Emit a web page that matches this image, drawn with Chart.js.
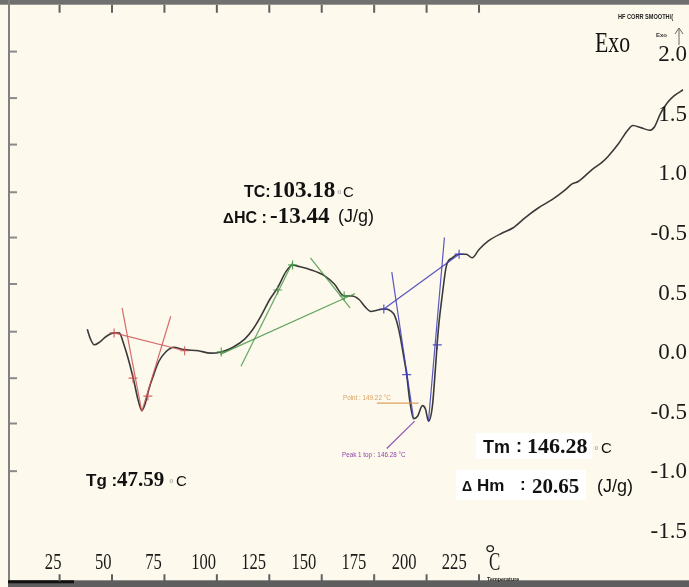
<!DOCTYPE html>
<html lang="en">
<head>
<meta charset="UTF-8">
<title>DSC curve</title>
<script src="https://cdn.jsdelivr.net/npm/chart.js"></script>
<style>
  html, body { margin: 0; padding: 0; background: #fdf9ec; }
  #wrap { width: 689px; height: 587px; }
</style>
</head>
<body>
<div id="wrap"><canvas id="dsc"></canvas></div>
<script>
// temperature (degC) and heat flow
const tempC = [38.2, 39.7, 41.5, 43.9, 47.2, 51.0, 53.4, 55.7, 58.1, 60.5, 62.4, 64.2, 65.7, 67.6, 69.9, 72.3,
  75.6, 79.4, 84.1, 91.2, 96.9, 102.1, 107.7, 113.4, 117.2, 121.0, 125.2, 129.0, 132.8, 136.1, 138.5, 144.6,
  151.2, 156.0, 160.7, 164.5, 167.8, 170.6, 173.5, 176.3, 179.6, 184.3, 186.7, 189.1, 190.5, 191.9, 193.8,
  195.7, 198.0, 199.5, 200.9, 202.8, 204.2, 205.6, 207.5, 209.4, 212.2, 215.5, 218.9, 221.7, 225.0, 229.3,
  236.3, 241.1, 247.2, 253.4, 260.0, 266.1, 269.4, 272.3, 278.9, 283.6, 286.5, 291.2, 295.9, 298.3, 302.5,
  306.3, 308.7, 311.5, 314.8, 318.1, 322.4];
const heatFlow = [0.20, 0.12, 0.07, 0.09, 0.14, 0.17, 0.17, 0.07, -0.07, -0.24, -0.39, -0.48, -0.43, -0.30, -0.18, -0.07,
  0.01, 0.05, 0.03, 0.02, 0.00, 0.01, 0.05, 0.12, 0.20, 0.31, 0.45, 0.55, 0.68, 0.74, 0.73, 0.70,
  0.65, 0.58, 0.48, 0.48, 0.45, 0.39, 0.35, 0.36, 0.37, 0.33, 0.20, -0.03, -0.18, -0.39, -0.55,
  -0.53, -0.44, -0.47, -0.57, -0.44, -0.13, 0.20, 0.49, 0.73, 0.80, 0.83, 0.83, 0.80, 0.87, 0.94,
  1.01, 1.05, 1.14, 1.22, 1.29, 1.37, 1.42, 1.44, 1.54, 1.60, 1.65, 1.75, 1.87, 1.91, 1.89,
  1.87, 1.90, 2.01, 2.10, 2.16, 2.21];

// analysis construction lines [temp, heat flow]
const tgBaseline = [[51.0, 0.17], [84.6, 0.02]];
const tgLeftTangent = [[54.8, 0.38], [64.2, -0.49]];
const tgRightTangent = [[78.0, 0.31], [64.2, -0.49]];
const tgMarks = [[51.0, 0.17], [60.0, -0.21], [67.1, -0.36], [84.6, 0.02]];

const tcBaseline = [[101.6, -0.01], [165.9, 0.50]];
const tcLeftTangent = [[111.5, -0.11], [136.1, 0.76]];
const tcRightTangent = [[144.6, 0.80], [163.5, 0.38]];
const tcMarks = [[102.1, 0.01], [129.0, 0.53], [136.1, 0.74], [160.7, 0.48]];

const tmBaseline = [[179.6, 0.37], [215.5, 0.83]];
const tmLeftTangent = [[183.4, 0.68], [193.8, -0.55]];
const tmRightTangent = [[208.5, 0.97], [200.9, -0.57]];
const tmMarks = [[179.6, 0.37], [190.5, -0.18], [205.1, 0.07], [215.5, 0.83]];

const pointLeader = [[176.3, -0.42], [196.2, -0.42]];
const peakLeader = [[181.0, -0.80], [194.3, -0.57]];

// axes
const xTickValues = [25, 50, 75, 100, 125, 150, 175, 200, 225];
const xTickLabels = ['25', '50', '75', '100', '125', '150', '175', '200', '225'];
const yTickValues = [2.5, 2.0, 1.5, 1.0, 0.5, 0.0, -0.5, -1.0, -1.5];
const yTickLabels = ['2.0', '1.5', '1.0', '-0.5', '0.5', '0.0', '-0.5', '-1.0', '-1.5'];
const leftTickValues = [2.53, 2.14, 1.75, 1.35, 0.97, 0.58, 0.18, -0.21, -0.59, -0.99];

const SERIF = '"Liberation Serif"';
const SANS = '"Liberation Sans"';

const toXY = pts => pts.map(p => ({ x: p[0], y: p[1] }));

const segment = (pts, color) => ({
    data: toXY(pts),
    borderColor: color,
    borderWidth: 1.2,
    pointRadius: 0,
    tension: 0
});

const marks = (pts, color) => ({
    data: toXY(pts),
    showLine: false,
    pointStyle: 'cross',
    pointRadius: 4.5,
    borderColor: color,
    borderWidth: 1.2
});

function txt(ctx, s, x, y, font, color, opts = {}) {
    ctx.save();
    ctx.font = font;
    ctx.fillStyle = color;
    ctx.textAlign = opts.align || 'left';
    ctx.textBaseline = opts.base || 'alphabetic';
    ctx.translate(x, y);
    ctx.scale(opts.sx || 1, 1);
    ctx.fillText(s, 0, 0);
    ctx.restore();
}

const dscFrame = {
    id: 'dscFrame',
    beforeDraw(chart) {
        const ctx = chart.ctx;
        ctx.save();
        ctx.fillStyle = '#fdf9ec';
        ctx.fillRect(0, 0, chart.width, chart.height);
        ctx.restore();
    },
    afterDraw(chart) {
        const ctx = chart.ctx;
        const { x, xt, y } = chart.scales;
        const area = chart.chartArea;
        ctx.save();

        // frame
        ctx.fillStyle = '#707070';
        ctx.fillRect(0, 0, chart.width, area.top - 1);
        ctx.fillStyle = '#808080';
        ctx.fillRect(area.left - 2, 0, 2, chart.height);
        ctx.fillStyle = '#5e5e5e';
        ctx.fillRect(area.left - 2, area.bottom - 1, chart.width, chart.height - area.bottom + 1);
        ctx.fillStyle = '#111';
        ctx.fillRect(area.left - 2, area.bottom - 1, 66, 3);

        ctx.strokeStyle = '#606060';
        ctx.lineWidth = 2;
        xTickValues.forEach(v => {
            const px = x.getPixelForValue(v);
            ctx.beginPath();
            ctx.moveTo(px, area.top - 1);
            ctx.lineTo(px, area.top + 7);
            ctx.moveTo(px, area.bottom);
            ctx.lineTo(px, area.bottom - 7);
            ctx.stroke();
        });
        ctx.strokeStyle = '#8a8a8a';
        leftTickValues.forEach(v => {
            const py = y.getPixelForValue(v);
            ctx.beginPath();
            ctx.moveTo(area.left, py);
            ctx.lineTo(area.left + 7, py);
            ctx.stroke();
        });

        // tick labels
        xTickValues.forEach((v, i) => {
            txt(ctx, xTickLabels[i], xt.getPixelForValue(v), 569, '23px ' + SERIF, '#1a1a1a',
                { align: 'center', sx: 0.72 });
        });
        yTickValues.forEach((v, i) => {
            txt(ctx, yTickLabels[i], 687, y.getPixelForValue(v), '23px ' + SERIF, '#1a1a1a',
                { align: 'right', base: 'middle' });
        });
        txt(ctx, '\u00B0', 485, 561, '26px ' + SERIF, '#1a1a1a');
        txt(ctx, 'C', 489, 570, '26px ' + SERIF, '#1a1a1a', { sx: 0.65 });
        txt(ctx, 'Temperature', 487, 581, 'bold 6px ' + SANS, '#222', { sx: 0.9 });

        // header, exo
        txt(ctx, 'HF CORR SMOOTH/(', 618, 19, 'bold 7px ' + SANS, '#222', { sx: 0.8 });
        txt(ctx, 'Exo', 656, 37, 'bold 6px ' + SANS, '#333');
        ctx.strokeStyle = '#666';
        ctx.lineWidth = 1;
        ctx.beginPath();
        ctx.moveTo(679, 45); ctx.lineTo(679, 28);
        ctx.moveTo(675, 34); ctx.lineTo(679, 28); ctx.lineTo(683, 34);
        ctx.stroke();
        txt(ctx, 'Exo', 595, 52, '29px ' + SERIF, '#111', { sx: 0.75 });

        // TC
        txt(ctx, 'TC:', 244, 197, 'bold 16px ' + SANS, '#111');
        txt(ctx, '103.18', 272, 197, 'bold 23px ' + SERIF, '#111');
        txt(ctx, '\u00B0', 337, 199, '12px ' + SANS, '#999');
        txt(ctx, 'C', 343, 197, '15px ' + SANS, '#111');
        txt(ctx, '\u0394', 223, 223, 'bold 15px ' + SANS, '#111');
        txt(ctx, 'HC :', 234, 223, 'bold 16px ' + SANS, '#111');
        txt(ctx, '-13.44', 270, 223, 'bold 23px ' + SERIF, '#111');
        txt(ctx, '(J/g)', 338, 222, '18px ' + SANS, '#111');

        // Tg
        txt(ctx, 'Tg :', 86, 486, 'bold 17px ' + SANS, '#111');
        txt(ctx, '47.59', 117, 486, 'bold 21px ' + SERIF, '#111');
        txt(ctx, '\u00B0', 169, 488, '12px ' + SANS, '#999');
        txt(ctx, 'C', 176, 486, '15px ' + SANS, '#111');

        // Tm
        ctx.fillStyle = '#ffffff';
        ctx.fillRect(476, 433, 116, 26);
        ctx.fillRect(456, 470, 130, 30);
        txt(ctx, 'Tm', 483, 453, 'bold 18px ' + SANS, '#111');
        txt(ctx, ':', 516, 452, 'bold 18px ' + SANS, '#111');
        txt(ctx, '146.28', 527, 453, 'bold 22px ' + SERIF, '#111');
        txt(ctx, '\u00B0', 594, 455, '12px ' + SANS, '#999');
        txt(ctx, 'C', 601, 453, '15px ' + SANS, '#111');
        txt(ctx, '\u0394', 462, 491, 'bold 14px ' + SANS, '#111');
        txt(ctx, 'Hm', 477, 491, 'bold 17px ' + SANS, '#111');
        txt(ctx, ':', 520, 490, 'bold 17px ' + SANS, '#111');
        txt(ctx, '20.65', 532, 493, 'bold 21px ' + SERIF, '#111');
        txt(ctx, '(J/g)', 597, 492, '18px ' + SANS, '#111');

        // small software labels
        txt(ctx, 'Point : 149.22 \u00B0C', 343, 400, '7px ' + SANS, '#d9a060', { sx: 0.9 });
        txt(ctx, 'Peak 1 top : 146.28 \u00B0C', 342, 457, '7px ' + SANS, '#8e44ad', { sx: 0.9 });

        ctx.restore();
    }
};

const RED = 'rgba(205, 85, 85, 0.85)';
const GREEN = 'rgba(70, 150, 70, 0.85)';
const BLUE = 'rgba(60, 60, 185, 0.85)';

document.addEventListener('DOMContentLoaded', () => {
    const ctx = document.getElementById('dsc').getContext('2d');
    new Chart(ctx, {
        type: 'line',
        data: {
            datasets: [
                segment(pointLeader, 'rgba(215, 150, 80, 0.9)'),
                segment(peakLeader, 'rgba(130, 70, 170, 0.9)'),
                marks(tgMarks, RED),
                segment(tgBaseline, RED),
                segment(tgLeftTangent, RED),
                segment(tgRightTangent, RED),
                marks(tcMarks, GREEN),
                segment(tcBaseline, GREEN),
                segment(tcLeftTangent, GREEN),
                segment(tcRightTangent, GREEN),
                marks(tmMarks, BLUE),
                segment(tmBaseline, BLUE),
                segment(tmLeftTangent, BLUE),
                segment(tmRightTangent, BLUE),
                {
                    label: 'HF CORR SMOOTH',
                    data: tempC.map((t, i) => ({ x: t, y: heatFlow[i] })),
                    borderColor: '#3a3a3a',
                    borderWidth: 1.6,
                    pointRadius: 0,
                    cubicInterpolationMode: 'monotone'
                }
            ]
        },
        options: {
            responsive: true,
            maintainAspectRatio: false,
            animation: false,
            layout: { padding: { left: 10, top: 5, right: 0, bottom: 4 } },
            scales: {
                x: { type: 'linear', display: false, min: 1.36, max: 322.4 },
                xt: { type: 'linear', axis: 'x', display: false, min: 3.49, max: 339.2 },
                y: { type: 'linear', display: false, min: -1.914, max: 2.915 }
            },
            plugins: {
                legend: { display: false },
                tooltip: { enabled: false }
            }
        },
        plugins: [dscFrame]
    });
});
</script>
</body>
</html>
